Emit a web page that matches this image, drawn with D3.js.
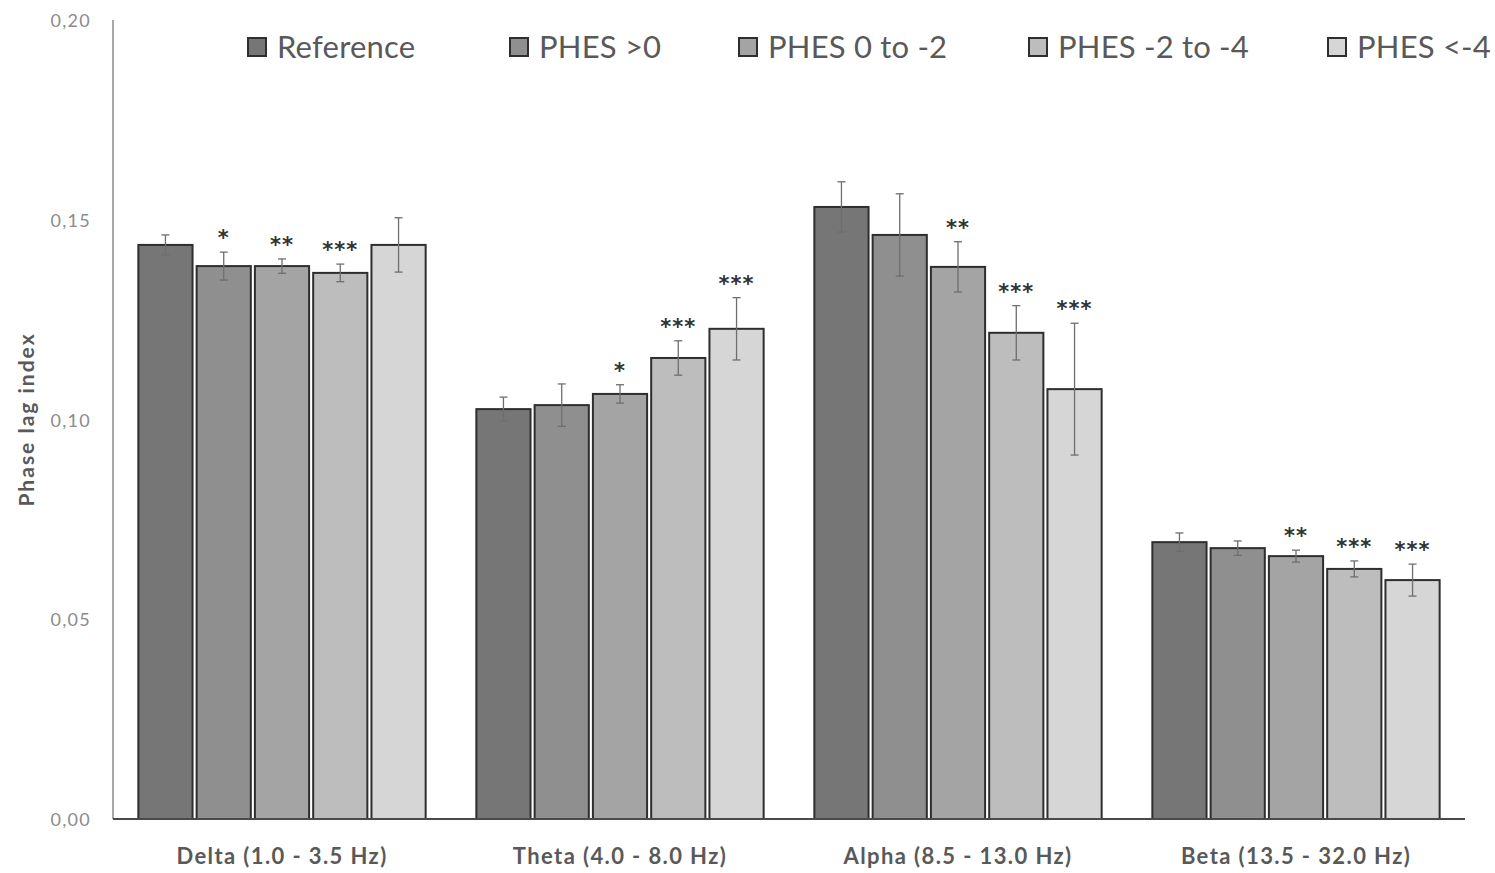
<!DOCTYPE html>
<html>
<head>
<meta charset="utf-8">
<script src="https://cdn.jsdelivr.net/npm/d3@7"></script>
<style>
  body { margin: 0; background: #fff; }
  svg { display: block; }
</style>
</head>
<body>
<div id="viz-container"></div>
<script>
// chart data
const bands = ["Delta (1.0 - 3.5 Hz)", "Theta (4.0 - 8.0 Hz)", "Alpha (8.5 - 13.0 Hz)", "Beta (13.5 - 32.0 Hz)"];
const groups = ["Reference", "PHES >0", "PHES 0 to -2", "PHES -2 to -4", "PHES <-4"];
const means = [
  [0.1437, 0.1384, 0.1384, 0.1367, 0.1437],
  [0.1026, 0.1036, 0.1064, 0.1154, 0.1227],
  [0.1532, 0.1462, 0.1382, 0.1217, 0.1076],
  [0.0693, 0.0678, 0.0658, 0.0626, 0.0598]
];
const errs = [
  [0.0025, 0.0035, 0.0018, 0.0022, 0.0068],
  [0.0030, 0.0053, 0.0023, 0.0043, 0.0078],
  [0.0063, 0.0103, 0.0063, 0.0068, 0.0165],
  [0.0023, 0.0018, 0.0015, 0.0020, 0.0040]
];
const stars = [
  ["", "*", "**", "***", ""],
  ["", "", "*", "***", "***"],
  ["", "", "**", "***", "***"],
  ["", "", "**", "***", "***"]
];
const yTicks = [0, 0.05, 0.10, 0.15, 0.20];
const fills = ["#767676", "#8f8f8f", "#a4a4a4", "#bdbdbd", "#d6d6d6"];

const width = 1495, height = 873;
const svg = d3.select("#viz-container").append("svg")
  .attr("width", width)
  .attr("height", height);

const x0 = d3.scaleBand().domain(bands).range([113, 1465])
  .paddingInner(0.15).paddingOuter(0.075);
const x1 = d3.scaleBand().domain(groups).range([0, x0.bandwidth()])
  .paddingInner(0.07).paddingOuter(0);
const y = d3.scaleLinear().domain([0, 0.2]).range([819, 20]);

// y axis line + tick labels
svg.append("line")
  .attr("x1", 113).attr("x2", 113)
  .attr("y1", y(0.2)).attr("y2", y(0))
  .attr("stroke", "#8a8a8a").attr("stroke-width", 1.5);

svg.selectAll(".ytick").data(yTicks).join("text")
  .attr("class", "ytick")
  .attr("x", 91)
  .attr("y", d => y(d) + 7)
  .attr("text-anchor", "end")
  .attr("font-family", "Lato, sans-serif")
  .attr("font-size", 18)
  .attr("letter-spacing", 1.3)
  .attr("fill", "#8c8c8c")
  .text(d => d3.format(".2f")(d).replace(".", ","));

svg.append("text")
  .attr("transform", `translate(34,${y(0.1)}) rotate(-90)`)
  .attr("text-anchor", "middle")
  .attr("font-family", "Lato, sans-serif")
  .attr("font-weight", "bold")
  .attr("font-size", 21)
  .attr("letter-spacing", 2)
  .attr("fill", "#595959")
  .text("Phase lag index");

// bars
const rows = [];
bands.forEach((b, i) => groups.forEach((g, j) => {
  rows.push({ band: b, group: g, j: j, v: means[i][j], e: errs[i][j], s: stars[i][j] });
}));

const bar = svg.selectAll(".bar").data(rows).join("g")
  .attr("class", "bar")
  .attr("transform", d => `translate(${x0(d.band) + x1(d.group)},0)`);

bar.append("rect")
  .attr("x", 0)
  .attr("y", d => y(d.v))
  .attr("width", x1.bandwidth())
  .attr("height", d => y(0) - y(d.v))
  .attr("fill", d => fills[d.j])
  .attr("stroke", "#2e2e2e")
  .attr("stroke-width", 2);

// error bars
const cx = x1.bandwidth() / 2;
bar.append("line")
  .attr("x1", cx).attr("x2", cx)
  .attr("y1", d => y(d.v + d.e)).attr("y2", d => y(d.v - d.e))
  .attr("stroke", "#6e6e6e").attr("stroke-width", 1.3);
bar.selectAll(".cap").data(d => [d.v + d.e, d.v - d.e]).join("line")
  .attr("class", "cap")
  .attr("x1", cx - 4).attr("x2", cx + 4)
  .attr("y1", d => y(d)).attr("y2", d => y(d))
  .attr("stroke", "#6e6e6e").attr("stroke-width", 1.3);

// significance marks
bar.append("text")
  .attr("x", cx)
  .attr("y", d => y(d.v + d.e) - 7)
  .attr("text-anchor", "middle")
  .attr("font-family", "DejaVu Sans, sans-serif")
  .attr("font-weight", "bold")
  .attr("font-size", 21)
  .attr("letter-spacing", 1)
  .attr("fill", "#333")
  .text(d => d.s);

// x axis
svg.append("line")
  .attr("x1", 113).attr("x2", 1465)
  .attr("y1", y(0)).attr("y2", y(0))
  .attr("stroke", "#4a4a4a").attr("stroke-width", 2);

svg.selectAll(".xlab").data(bands).join("text")
  .attr("class", "xlab")
  .attr("x", d => x0(d) + x0.bandwidth() / 2)
  .attr("y", 864)
  .attr("text-anchor", "middle")
  .attr("font-family", "Lato, sans-serif")
  .attr("font-weight", "bold")
  .attr("font-size", 22)
  .attr("letter-spacing", 1.4)
  .attr("fill", "#595959")
  .text(d => d);

// legend
const legendX = [248, 510, 739, 1029, 1328];
const leg = svg.selectAll(".leg").data(groups).join("g")
  .attr("class", "leg")
  .attr("transform", (d, i) => `translate(${legendX[i]},38)`);
leg.append("rect")
  .attr("width", 18).attr("height", 18)
  .attr("fill", (d, i) => fills[i])
  .attr("stroke", "#2e2e2e").attr("stroke-width", 2);
leg.append("text")
  .attr("x", 29).attr("y", 20)
  .attr("font-family", "Lato, sans-serif")
  .attr("font-size", 31)
  .attr("letter-spacing", 0.2)
  .attr("fill", "#595959")
  .text(d => d);
</script>
</body>
</html>
